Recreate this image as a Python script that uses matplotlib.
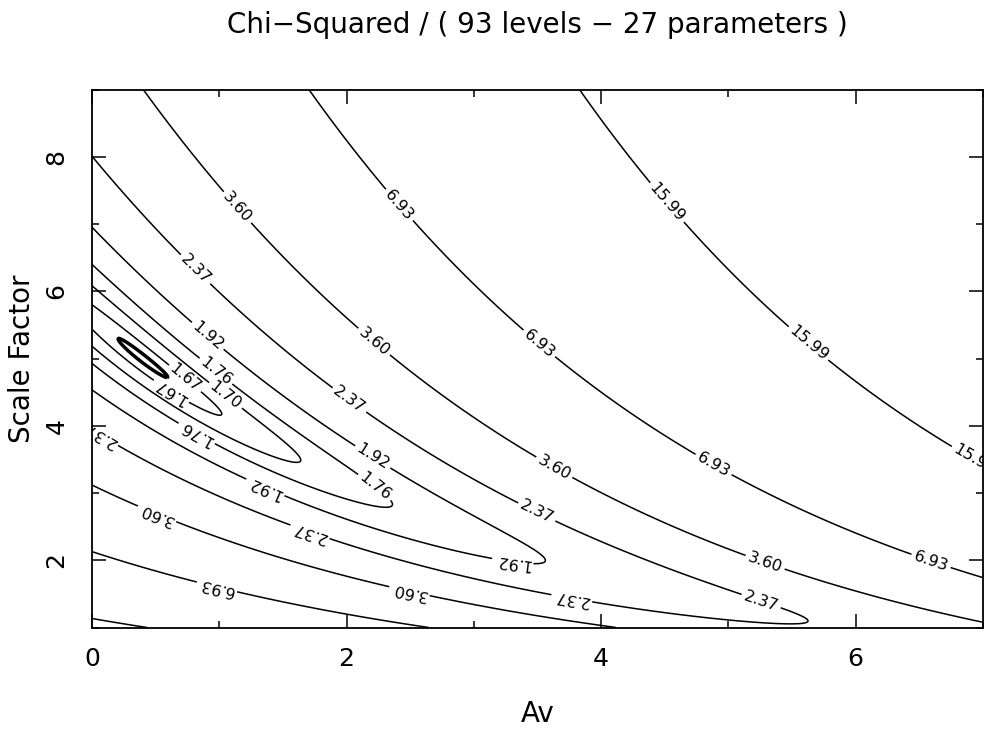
import numpy as np
import matplotlib
matplotlib.use("Agg")
import matplotlib.pyplot as plt
from matplotlib.ticker import MultipleLocator

# chi-square surface, parameters
chi2_min = 1.66      # reduced chi-square at the best fit
av_best = 0.40       # Av at the best fit
scale_best = 5.0     # scale factor at the best fit
degeneracy = 0.29    # d(ln S)/d(Av) along the valley
curv_across = 5.6    # curvature across the valley (ln S)
curv_along = 0.026   # curvature along the valley (Av)

# contour levels
levels = [1.67, 1.70, 1.76, 1.92, 2.37, 3.60, 6.93, 15.99]
inner_level = [1.661]

av_range = [0, 7]
scale_range = [1, 9]
av_ticks = [0, 2, 4, 6]
scale_ticks = [2, 4, 6, 8]

title = "Chi\u2212Squared / ( 93 levels \u2212 27 parameters )"

# where the contour labels sit (Av, scale factor)
label_spots = [
    (4.48, 7.26), (5.60, 5.16), (6.91, 3.43),
    (2.43, 7.31), (3.53, 5.26), (4.90, 3.48), (6.59, 1.98), (0.98, 1.59),
    (1.15, 7.26), (2.22, 5.26), (3.64, 3.41), (5.29, 1.98), (0.52, 2.73), (2.50, 1.59),
    (0.82, 6.34), (2.04, 4.43), (3.51, 2.78), (5.26, 1.41), (0.07, 3.88), (1.72, 2.46), (3.77, 1.44),
    (0.92, 5.36), (2.22, 3.58), (1.38, 3.16), (3.31, 2.04),
    (0.96, 4.78), (2.25, 3.16), (0.83, 3.91),
    (1.04, 4.43), (0.60, 4.44),
    (0.68, 4.59),
]

# build the grid
av = np.linspace(av_range[0], av_range[1], 701)
sc = np.linspace(scale_range[0], scale_range[1], 801)
AV, SC = np.meshgrid(av, sc)
valley = np.log(scale_best) - degeneracy * (AV - av_best)
chi2 = chi2_min + curv_across * (np.log(SC) - valley) ** 2 + curv_along * (AV - av_best) ** 2

plt.rcParams['font.family'] = ['DejaVu Sans']

fig = plt.figure(figsize=(10.04, 7.29), dpi=100)
ax = fig.add_axes([0.0916, 0.1392, 0.8875, 0.738])

cs = ax.contour(AV, SC, chi2, levels=levels, colors='black', linewidths=1.1)
ax.contour(AV, SC, chi2, levels=inner_level, colors='black', linewidths=2.5)
ax.clabel(cs, fmt='%.2f', fontsize=11.5, inline=True, inline_spacing=3,
          rightside_up=False, manual=label_spots)

ax.set_xlim(av_range)
ax.set_ylim(scale_range)
ax.set_xticks(av_ticks)
ax.set_yticks(scale_ticks)
ax.xaxis.set_minor_locator(MultipleLocator(1))
ax.yaxis.set_minor_locator(MultipleLocator(1))
ax.tick_params(which='both', direction='in', top=True, right=True, width=1.1)
ax.tick_params(which='major', length=10)
ax.tick_params(which='minor', length=5)
ax.tick_params(axis='x', labelsize=18, pad=14)
ax.tick_params(axis='y', labelsize=18, pad=17)
plt.setp(ax.get_yticklabels(), rotation=90, va='center')
for sp in ax.spines.values():
    sp.set_linewidth(1.3)

ax.set_xlabel('Av', fontsize=20)
ax.set_ylabel('Scale Factor', fontsize=20)
ax.xaxis.set_label_coords(0.5, -0.135)
ax.yaxis.set_label_coords(-0.063, 0.5)

fig.text(0.535, 0.966, title, ha='center', va='center', fontsize=20)

fig.savefig('out.png', dpi=100)
